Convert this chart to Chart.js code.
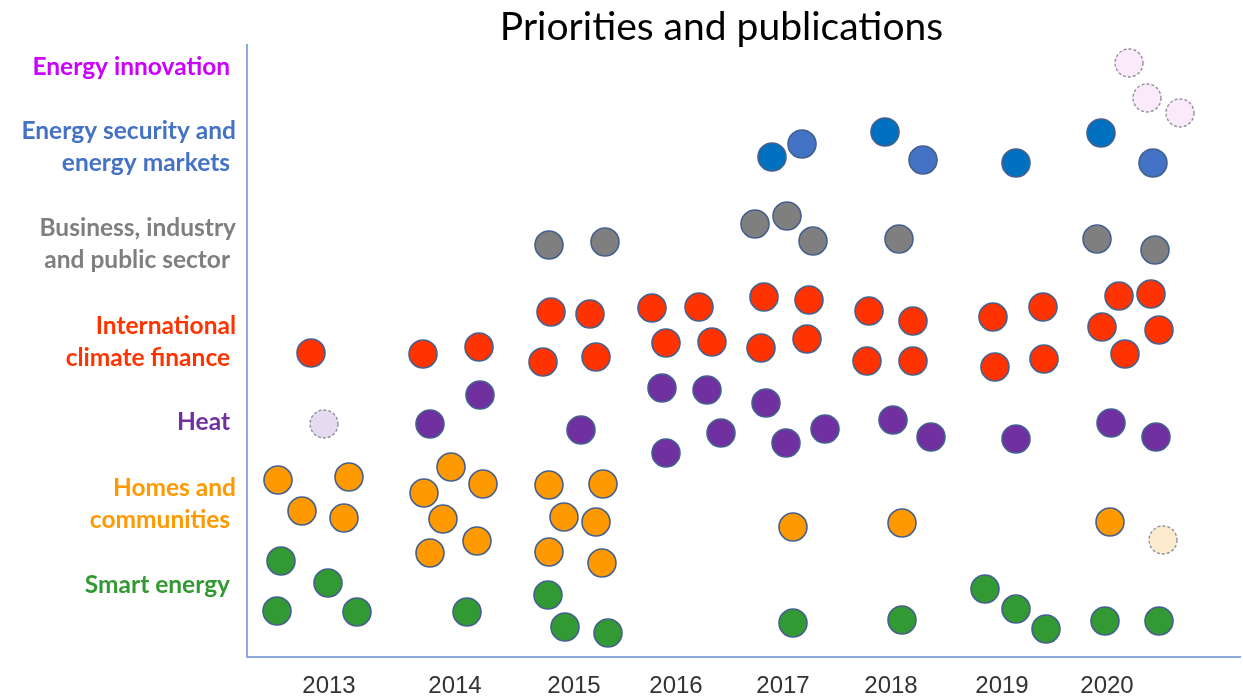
<!DOCTYPE html>
<html>
<head>
<meta charset="utf-8">
<script src="https://cdn.jsdelivr.net/npm/chart.js@4/dist/chart.umd.min.js"></script>
<style>
  html, body { margin: 0; padding: 0; background: #fff; }
  #wrap { width: 1243px; height: 697px; }
</style>
</head>
<body>
<div id="wrap"><canvas id="chart"></canvas></div>
<script>
// positions on the timeline (x) and on the priority axis (y)
const yearLabels = ['2013', '2014', '2015', '2016', '2017', '2018', '2019', '2020'];
const yearPos = [8.2, 20.8, 32.7, 42.9, 53.6, 64.4, 75.5, 86.0];

const categoryLabels = [
    'Energy innovation ',
    ['Energy security and', 'energy markets '],
    ['Business, industry', 'and public sector '],
    ['International', 'climate finance '],
    'Heat ',
    ['Homes and', 'communities '],
    'Smart energy '
];
const categoryPos = [59.0, 51.0, 41.3, 31.5, 23.5, 15.3, 7.2];
const categoryColors = ['#cc00ff', '#4472c4', '#7f7f7f', '#ff3300', '#7030a0', '#ff9900', '#339933'];

const innovationPlanned = [[88.2, 59.4], [90.0, 55.9], [93.3, 54.4]];
const securityA = [[52.5, 50.0], [63.8, 52.5], [76.9, 49.4], [85.4, 52.4]];
const securityB = [[55.5, 51.3], [67.6, 49.7], [90.6, 49.4]];
const business = [[30.2, 41.2], [35.8, 41.5], [50.8, 43.3], [54.0, 44.1], [56.6, 41.6],
    [65.2, 41.8], [85.0, 41.8], [90.8, 40.7]];
const climateFinance = [[6.4, 30.4], [17.6, 30.3], [23.2, 31.0], [30.4, 34.5], [34.3, 34.3],
    [29.6, 29.5], [34.9, 30.0], [40.5, 34.9], [45.2, 35.0], [41.9, 31.4], [46.5, 31.5],
    [51.7, 36.0], [56.2, 35.7], [51.4, 30.9], [56.0, 31.8], [62.2, 34.6], [66.6, 33.6],
    [62.0, 29.6], [66.6, 29.6], [74.6, 34.0], [79.6, 35.0], [74.8, 29.0], [79.7, 29.8],
    [87.2, 36.1], [90.4, 36.3], [85.5, 33.0], [91.2, 32.7], [87.8, 30.3]];
const heat = [[18.3, 23.3], [23.3, 26.2], [33.4, 22.7], [41.5, 26.9], [46.0, 26.7],
    [47.4, 22.4], [41.9, 20.4], [51.9, 25.4], [53.9, 21.4], [57.8, 22.8], [64.6, 23.7],
    [68.4, 22.0], [76.9, 21.8], [86.4, 23.4], [90.9, 22.0]];
const heatPlanned = [[7.7, 23.3]];
const homes = [[3.1, 17.7], [10.2, 18.0], [5.5, 14.6], [9.7, 13.9], [20.4, 19.0],
    [17.7, 16.4], [23.6, 17.3], [19.6, 13.8], [23.0, 11.6], [18.3, 10.4], [30.2, 17.2],
    [35.6, 17.3], [31.7, 14.0], [34.9, 13.5], [30.2, 10.5], [35.5, 9.4], [54.6, 13.0],
    [65.5, 13.4], [86.3, 13.5]];
const homesPlanned = [[91.6, 11.7]];
const smartEnergy = [[3.4, 9.6], [8.1, 7.4], [3.0, 4.6], [11.0, 4.5], [22.0, 4.5],
    [30.1, 6.2], [31.8, 3.0], [36.1, 2.4], [54.6, 3.4], [65.5, 3.7], [73.8, 6.8],
    [76.9, 4.8], [79.9, 2.8], [85.8, 3.6], [91.2, 3.6]];

const chartTitle = 'Priorities and publications';

const toPoints = arr => arr.map(p => ({ x: p[0], y: p[1] }));

function dots(label, data, fill, planned) {
    return {
        label: label,
        data: toPoints(data),
        backgroundColor: fill,
        borderColor: planned ? '#8c8c99' : '#44618f',
        borderWidth: planned ? 1.3 : 1.6,
        pointRadius: 14,
        pointHoverRadius: 14,
        planned: !!planned
    };
}

// dashed outline for the planned (pale) circles
const dashedOutline = {
    id: 'dashedOutline',
    beforeDatasetDraw(chart, args) {
        if (args.meta._dataset.planned) chart.ctx.setLineDash([3, 2]);
    },
    afterDatasetDraw(chart) {
        chart.ctx.setLineDash([]);
    }
};

// the title sits a little left of the plot centre, so draw it ourselves
const offsetTitle = {
    id: 'offsetTitle',
    afterDraw(chart) {
        const { ctx, chartArea } = chart;
        ctx.save();
        ctx.font = '39px Lato, "Open Sans", sans-serif';
        ctx.fillStyle = '#000';
        ctx.textAlign = 'center';
        ctx.textBaseline = 'alphabetic';
        ctx.fillText(chartTitle, (chartArea.left + chartArea.right) / 2 - 22, chartArea.top - 5);
        ctx.restore();
    }
};

const axisBlue = '#8eaadb';

new Chart(document.getElementById('chart'), {
    type: 'scatter',
    data: {
        datasets: [
            dots('Energy innovation', innovationPlanned, '#fbeafc', true),
            dots('Energy security and energy markets', securityA, '#0070c0'),
            dots('Energy security and energy markets', securityB, '#4472c4'),
            dots('Business, industry and public sector', business, '#7f7f7f'),
            dots('International climate finance', climateFinance, '#ff3300'),
            dots('Heat', heat, '#7030a0'),
            dots('Heat', heatPlanned, '#e4dcee', true),
            dots('Homes and communities', homes, '#ff9900'),
            dots('Homes and communities', homesPlanned, '#fdebd0', true),
            dots('Smart energy', smartEnergy, '#339933')
        ]
    },
    options: {
        responsive: true,
        maintainAspectRatio: false,
        animation: false,
        layout: { autoPadding: false, padding: { left: 0, right: 3, top: 45, bottom: 0 } },
        scales: {
            x: {
                type: 'linear',
                min: 0,
                max: 99.3,
                grid: { display: false, drawTicks: false },
                border: { display: true, color: axisBlue, width: 2 },
                afterBuildTicks: scale => {
                    scale.ticks = yearPos.map(v => ({ value: v }));
                },
                afterFit: scale => { scale.height = 40; },
                ticks: {
                    autoSkip: false,
                    maxRotation: 0,
                    padding: 15,
                    color: '#333333',
                    font: { family: '"Liberation Sans Narrow", "Liberation Sans", sans-serif', size: 24 },
                    callback: (value, index) => yearLabels[index]
                }
            },
            y: {
                type: 'linear',
                min: 0,
                max: 61.2,
                grid: { display: false, drawTicks: false },
                border: { display: true, color: axisBlue, width: 2 },
                afterBuildTicks: scale => {
                    scale.ticks = categoryPos.map(v => ({ value: v }));
                },
                afterFit: scale => { scale.width = 247; },
                ticks: {
                    autoSkip: false,
                    padding: 11,
                    color: ctx => categoryColors[ctx.index],
                    font: { family: 'Lato, "Open Sans", sans-serif', size: 24.5, weight: 'bold', lineHeight: 1.3 },
                    callback: (value, index) => categoryLabels[index]
                }
            }
        },
        plugins: {
            legend: { display: false },
            tooltip: { enabled: false },
            title: { display: false }
        }
    },
    plugins: [dashedOutline, offsetTitle]
});
</script>
</body>
</html>
